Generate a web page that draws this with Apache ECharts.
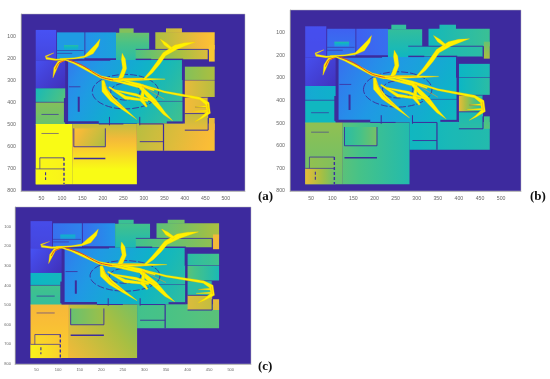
<!DOCTYPE html>
<html><head><meta charset="utf-8">
<script src="https://cdn.jsdelivr.net/npm/echarts@6/dist/echarts.min.js"></script>
<style>html,body{margin:0;padding:0;background:#fff}#c{width:550px;height:379px}#c canvas{filter:blur(.3px)}</style>
</head><body><div id="c"></div>
<script>
const xTicks=[50,100,150,200,250,300,350,400,450,500];
const yTicks=[100,200,300,400,500,600,700,800];
const panelLabels=['(a)','(b)','(c)'];
const parulaStops=[[0,[62,38,168]],[.14,[71,82,244]],[.28,[34,150,232]],[.42,[12,182,196]],[.57,[70,194,136]],[.71,[165,191,66]],[.85,[249,186,56]],[1,[249,251,21]]];
// room rectangles in image coordinates: x0,y0,x1,y1
const rooms=[
[36,72,86,210],[36,210,108,336],[88,83,155,205],[157,83,232,200],
[115,208,396,495],[240,65,275,86],[232,85,313,208],
[328,83,473,160],[354,65,393,85],[459,140,473,215],[280,160,457,205],
[283,495,473,618],
[400,238,473,298],[400,300,473,375],[400,378,457,450],[400,450,457,525],[459,470,473,525],
[36,336,108,397],[36,400,108,502],
[36,497,125,770],[125,497,283,770],
[129,517,206,600],[46,650,105,700],[36,700,108,770],[105,140,140,165]];
// value pair and gradient direction per room, per panel (0 across, 1 down, 2 diagonal, 3 anti-diagonal)
const valuesA=[[.14,.1,1],[.13,.03,2],[.3,.3,0],[.27,.33,0],[.22,.56,2],[.66,.66,0],[.62,.5,1],
[.72,.88,0],[.76,.8,0],[.88,.88,0],[.58,.8,0],
[.74,.87,2],
[.66,.72,0],[.82,.74,0],[.84,.8,0],[.76,.82,1],[.82,.84,1],
[.45,.6,2],[.66,.62,1],
[1,1,1],[.76,1.08,1],
[.87,.72,2],[.99,.98,0],[1,.98,0],[.5,.32,1]];
const valuesB=[[.13,.12,1],[.13,.04,2],[.17,.22,1],[.17,.2,0],[.2,.44,2],[.52,.52,0],[.52,.43,1],
[.44,.54,0],[.46,.48,0],[.62,.72,1],[.44,.5,0],
[.43,.48,0],
[.42,.46,0],[.42,.5,0],[.82,.46,0],[.46,.5,1],[.55,.6,1],
[.36,.4,0],[.43,.43,1],
[.68,.62,1],[.6,.48,0],
[.5,.64,0],[.68,.66,0],[.82,.62,0],[.5,.2,1]];
const valuesC=[[.12,.1,1],[.14,.03,2],[.2,.24,0],[.2,.28,0],[.22,.52,2],[.54,.54,0],[.56,.46,1],
[.6,.72,0],[.62,.64,0],[.84,.84,0],[.56,.68,0],
[.56,.6,0],
[.5,.56,0],[.6,.46,0],[.5,.5,0],[.8,.76,0],[.82,.8,1],
[.42,.44,0],[.56,.52,1],
[.84,.9,1],[.64,.84,3],
[.62,.7,0],[.92,.88,0],[.98,.9,0],[.4,.3,1]];
// wall segments: x0,y0,x1,y1,line width,dashed
const walls=[[117,208,218,208,1.6,0],[108,380,108,490,2.6,0],[141,374,141,442,2,0],[117,329,145,329,.8,0],
[108,490,190,490,2.4,0],[190,497,250,497,1,0],[216,465,216,503,1,0],[290,465,290,503,1,0],[290,497,348,497,1,0],
[348,497,348,618,1.2,0],[396,208,396,300,2.4,0],[396,300,396,490,1.4,0],[280,205,318,205,1.4,0],[345,205,396,205,1.4,0],[356,490,396,490,2,0],
[290,577,348,577,.9,0],[129,517,129,600,.9,0],[129,600,206,600,.9,0],[206,517,206,600,.9,0],[129,653,206,653,1.5,0],
[50,540,92,540,.6,0],[50,454,92,454,.7,0],[46,650,105,650,.8,0],[105,650,105,770,1.4,1],[46,650,46,700,.7,0],[36,700,105,700,.7,0],[60,715,60,750,1.1,1],
[88,165,153,165,.6,0],[88,178,125,178,.6,0],[400,525,457,525,1,0],[400,450,457,450,.8,0],[425,420,458,420,.6,0],[310,395,396,395,.5,0],[457,378,457,450,1,0],[457,470,457,525,1,0],
[280,160,457,160,.8,0],[457,160,457,205,.8,0]];
// dashed plan ellipses: centre x, centre y, radius x, radius y
const ellipses=[[255,351,81,78],[255,351,36,38]];
// flow streams: centre points x,y with half width
const streams=[
[[105,205,1],[130,222,2],[165,255,3],[194,284,3],[222,297,4],[290,295,3],[352,294,.3]],
[[110,205,1.5],[85,207,2],[62,200,2.5],[60,192,1.5],[80,176,.2]],
[[95,204,1.5],[130,201,1.5],[155,193,2],[172,172,6],[186,140,4],[193,113,.2]],
[[110,205,.6],[92,218,3],[84,245,4],[78,288,.2]],
[[247,178,.2],[250,205,5],[253,245,5],[246,280,5],[240,296,3]],
[[300,295,1.5],[318,262,4],[335,222,5],[350,182,5],[378,150,6],[400,137,4],[425,127,.2]],
[[340,113,.2],[352,135,4],[368,158,3]],
[[200,300,3],[204,345,7],[222,385,6],[248,425,3.5],[283,477,.2]],
[[225,300,1.5],[290,328,4],[325,395,6],[350,450,3.5],[370,482,.2]],
[[295,320,1.5],[350,352,2],[437,382,3],[455,405,5],[458,445,5],[440,470,2],[425,487,.2]],
[[215,330,1.5],[255,378,4],[310,392,2]],
[[299,329,2],[295,389,5],[307,419,2]],
[[230,345,1.5],[280,365,3],[330,398,1.5]],
[[250,300,1.5],[290,320,3.5],[325,345,1.5]],
[[425,420,.2],[452,418,2]],
[[420,440,.2],[455,438,2]]];
// hot core along the main stream
const coreLines=[[[117,207],[150,232],[195,284],[225,298]],[[105,212],[92,222],[84,250]],[[300,296],[250,292],[222,300]],[[205,320],[222,380],[250,425]],[[295,325],[350,385]],[[455,405],[458,445]]];

const scene=[valuesA,valuesB,valuesC];
const layout=[[21,14,224,177],[290,10,231,181],[15,207,236,157]];
const tickSize=[5.2,5.2,4];
const labelPos=[[258,190],[530,190],[258,360]];

function parula(v){v=Math.max(0,Math.min(1,v));for(let i=1;i<parulaStops.length;i++){if(v<=parulaStops[i][0]){const a=parulaStops[i-1],b=parulaStops[i],t=(v-a[0])/(b[0]-a[0]);const c=a[1].map((q,k)=>Math.round(q+(b[1][k]-q)*t));return 'rgb('+c.join(',')+')';}}return 'rgb(249,251,21)';}
const dirs=[[0,0,1,0],[0,0,0,1],[0,0,1,1],[1,0,0,1]];
function roomItem(p,api){
  const a=api.coord([api.value(0),api.value(1)]),b=api.coord([api.value(2),api.value(3)]);
  const v0=api.value(4),v1=api.value(5),d=dirs[api.value(6)];
  const cs=[];for(let i=0;i<=8;i++)cs.push({offset:i/8,color:parula(v0+(v1-v0)*i/8)});
  return {type:'rect',shape:{x:a[0],y:a[1],width:b[0]-a[0],height:b[1]-a[1]},style:{fill:new echarts.graphic.LinearGradient(d[0],d[1],d[2],d[3],cs)},silent:true};
}
function wallItem(p,api){
  const a=api.coord([api.value(0),api.value(1)]),b=api.coord([api.value(2),api.value(3)]);
  return {type:'line',shape:{x1:a[0],y1:a[1],x2:b[0],y2:b[1]},style:{stroke:'#3d2d9c',lineWidth:api.value(4),lineDash:api.value(5)?[3,2]:null},silent:true};
}
function ellipseItem(p,api){
  const c=api.coord([api.value(0),api.value(1)]),s=api.size([api.value(2),api.value(3)]);
  return {type:'ellipse',shape:{cx:c[0],cy:c[1],rx:s[0],ry:s[1]},style:{fill:null,stroke:'#3d2d9c',lineWidth:.9,lineDash:[7,2]},silent:true};
}
function streamItem(p,api){
  const pts=streams[api.value(0)].map(q=>{const c=api.coord([q[0],q[1]]);return [c[0],c[1],q[2]*api.size([1,0])[0]];});
  const l=[],r=[];
  pts.forEach((q,i)=>{const a=pts[Math.max(0,i-1)],b=pts[Math.min(pts.length-1,i+1)];let dx=b[0]-a[0],dy=b[1]-a[1];const n=Math.hypot(dx,dy)||1;dx/=n;dy/=n;l.push([q[0]-dy*q[2],q[1]+dx*q[2]]);r.unshift([q[0]+dy*q[2],q[1]-dx*q[2]]);});
  return {type:'polygon',shape:{points:l.concat(r)},style:{fill:'#fff200',stroke:'#f7c600',lineWidth:.3},silent:true};
}
function coreItem(p,api){
  const pts=coreLines[api.value(0)].map(q=>api.coord(q));
  return {type:'polyline',shape:{points:pts,smooth:.3},style:{fill:null,stroke:api.value(0)<2?'#e8481c':'#f59a1e',lineWidth:api.value(0)<2?1:.6},silent:true};
}
const grid=[],xAxis=[],yAxis=[],series=[],title=[];
layout.forEach((g,i)=>{
  grid.push({left:g[0],top:g[1],width:g[2],height:g[3],show:true,backgroundColor:'#3d2a9e',borderWidth:.5,borderColor:'#bbb',containLabel:false});
  const label={color:'#666',fontSize:tickSize[i],fontFamily:'Liberation Sans',margin:i==2?4:5};
  const axisLine={show:true,onZero:false,lineStyle:{color:'#999',width:.6}};
  xAxis.push({type:'value',gridIndex:i,min:0,max:547,position:'bottom',splitLine:{show:false},axisLine,axisTick:{show:false,customValues:xTicks},axisLabel:{...label,customValues:xTicks}});
  yAxis.push({type:'value',gridIndex:i,min:0,max:800,inverse:true,position:'left',splitLine:{show:false},axisLine,axisTick:{show:false,customValues:yTicks},axisLabel:{...label,customValues:yTicks}});
  const base={type:'custom',xAxisIndex:i,yAxisIndex:i,clip:true,silent:true,animation:false};
  series.push({...base,z:2,renderItem:roomItem,data:rooms.map((r,k)=>r.concat(scene[i][k]))});
  series.push({...base,z:3,renderItem:wallItem,data:walls});
  series.push({...base,z:3,renderItem:ellipseItem,data:ellipses});
  series.push({...base,z:4,renderItem:streamItem,data:streams.map((s,k)=>[k])});
  series.push({...base,z:5,renderItem:coreItem,data:coreLines.map((s,k)=>[k])});
  title.push({text:panelLabels[i],left:labelPos[i][0],top:labelPos[i][1],textStyle:{fontFamily:'Liberation Serif',fontWeight:'bold',fontSize:13,color:'#111'},padding:0});
});
const chart=echarts.init(document.getElementById('c'),null,{renderer:'canvas'});
chart.setOption({animation:false,title,grid,xAxis,yAxis,series});
</script></body></html>
